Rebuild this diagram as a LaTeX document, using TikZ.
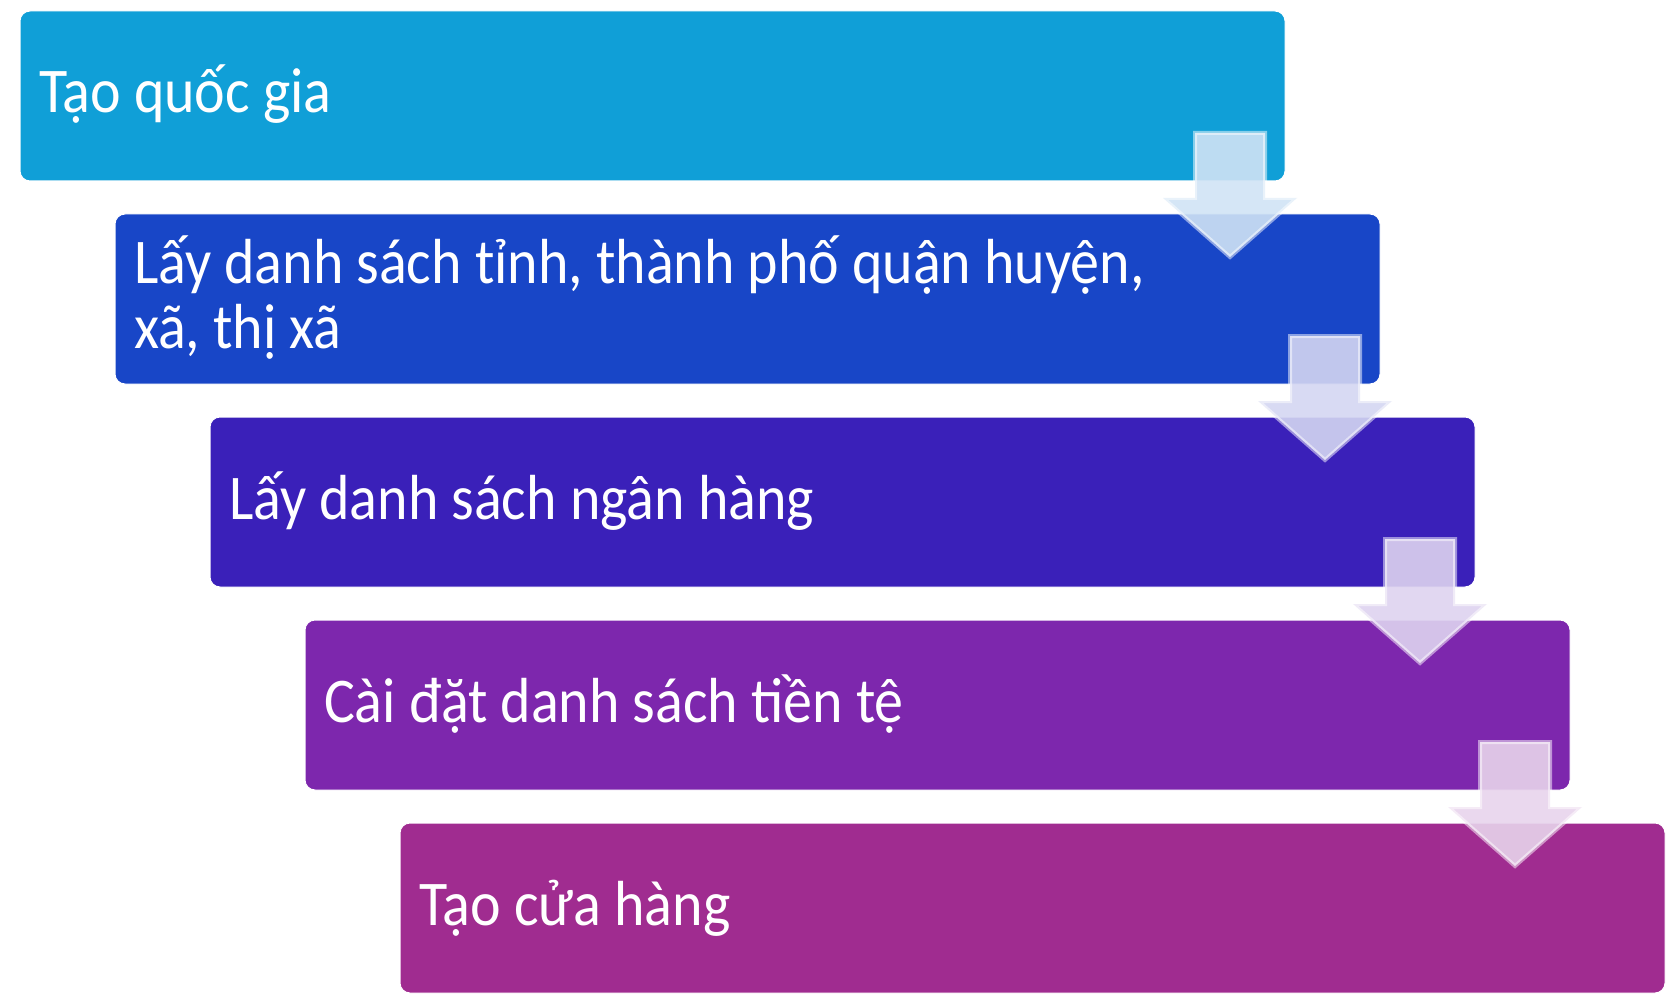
\documentclass[tikz,border=0pt]{standalone}
\usepackage{fontspec}
\setmainfont[FakeStretch=0.91]{Carlito}
\usetikzlibrary{calc}
\definecolor{quocgia}{HTML}{109FD7}
\definecolor{tinhthanh}{HTML}{1846C7}
\definecolor{nganhang}{HTML}{3A20B9}
\definecolor{tiente}{HTML}{7D27AD}
\definecolor{cuahang}{HTML}{A02C90}
\begin{document}
\begin{tikzpicture}[x=1pt,y=1pt,
  stepbox/.style={draw=white, line width=1pt, rounded corners=10pt, outer sep=0pt,
    minimum width=1265pt, minimum height=170pt, inner xsep=19pt, inner ysep=0pt,
    text width=1227pt, align=flush left, text height=46pt, text depth=12pt, text=white,
    font=\fontsize{63.7}{65}\selectfont},
  flowarrow/.style={draw=white, draw opacity=.5, line width=4pt, fill opacity=.9}]
\useasboundingbox (0,0) rectangle (1677,-1008);
\node[stepbox, fill=quocgia] (quocgia) at (652.5,-96) {Tạo quốc gia};
\node[stepbox, fill=tinhthanh, text depth=78pt] (tinhthanh) at (747.5,-299) {Lấy danh sách tỉnh, thành phố quận huyện,\\xã, thị xã};
\node[stepbox, fill=nganhang] (nganhang) at (842.5,-502) {Lấy danh sách ngân hàng};
\node[stepbox, fill=tiente] (tiente) at (937.5,-705) {Cài đặt danh sách tiền tệ};
\node[stepbox, fill=cuahang] (cuahang) at (1032.5,-908) {Tạo cửa hàng};
% arrows between the steps
\foreach \a/\b in {quocgia/tinhthanh, tinhthanh/nganhang, nganhang/tiente, tiente/cuahang}
  \filldraw[flowarrow, fill=\a!50!\b!20!white] ($(\a.south east)+(-90,48)$) -- ++(70,0) -- ++(0,-65)
    -- ++(32,0) -- ++(-67,-59) -- ++(-67,59) -- ++(32,0) -- cycle;
\end{tikzpicture}
\end{document}
